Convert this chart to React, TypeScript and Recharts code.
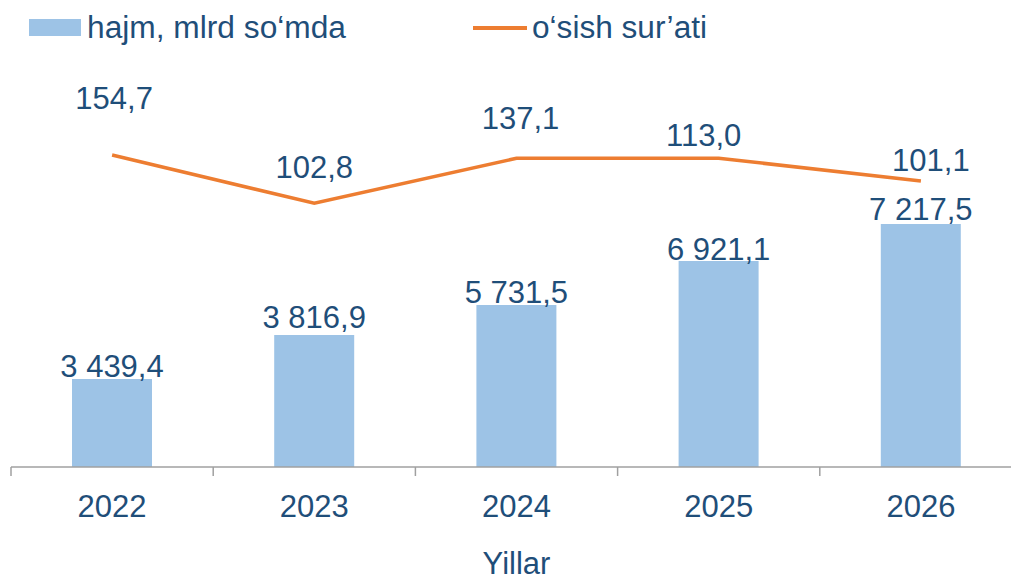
import React from "react";
import { ComposedChart, Bar, Line, XAxis, YAxis, LabelList } from "recharts";

// ---- data ----
const years = ["2022", "2023", "2024", "2025", "2026"];
// printed values (bar labels): hajm, mlrd so'mda
const volume = [3439.4, 3816.9, 5731.5, 6921.1, 7217.5];
// bar heights as drawn in the reference picture (same units)
const volumeDrawn = [3439.4, 5159, 6331, 8051, 9497];
// printed values (line labels): o'sish sur'ati
const growth = [154.7, 102.8, 137.1, 113.0, 101.1];
// line points as drawn in the reference picture (same units)
const growthDrawn = [154.7, 102.8, 151.2, 151.2, 126.8];

const data = years.map((y, i) => ({
  year: y,
  volume: volume[i],
  volumeDrawn: volumeDrawn[i],
  growth: growth[i],
  growthDrawn: growthDrawn[i],
}));

// ---- styles ----
const FONT = "'Liberation Sans', Arial, sans-serif";
const TEXT = "#1F4E79";
const BAR = "#9DC3E6";
const LINE = "#ED7D31";
const AXIS = "#A0A0A0";
const FS = 31;
// label placement tweaks (style)
const barLabelLift = [2, 7, 2, 1, 4];
const lineLabelLift = [57, 36, 40, 23, 21];
const lineLabelShift = [2, 0, 4, -15, 10];

const fmt = (v: number) => {
  const [int, dec] = v.toFixed(1).split(".");
  const grouped = int.replace(/\B(?=(\d{3})+(?!\d))/g, " ");
  return grouped + "," + dec;
};

const CatTick = (props: any) => {
  const { x, y, payload, index } = props;
  const half = payload && payload.offset ? payload.offset : 101;
  return (
    <g>
      <line x1={x - half} x2={x - half} y1={y} y2={y + 9} stroke={AXIS} strokeWidth={1.5} />
      {index === years.length - 1 && (
        <line x1={x + half} x2={x + half} y1={y} y2={y + 9} stroke={AXIS} strokeWidth={1.5} />
      )}
      <text x={x} y={y + 50} textAnchor="middle" fill={TEXT} fontSize={FS} fontFamily={FONT}>
        {payload.value}
      </text>
    </g>
  );
};

const BarLabel = (props: any) => {
  const { x, y, width, index } = props;
  return (
    <text
      x={Number(x) + Number(width) / 2}
      y={Number(y) - barLabelLift[index]}
      textAnchor="middle"
      fill={TEXT}
      fontSize={FS}
      fontFamily={FONT}
    >
      {fmt(volume[index])}
    </text>
  );
};

const LineLabel = (props: any) => {
  const { x, y, index } = props;
  return (
    <text
      x={Number(x) + lineLabelShift[index]}
      y={Number(y) - lineLabelLift[index] + 11}
      textAnchor="middle"
      fill={TEXT}
      fontSize={FS}
      fontFamily={FONT}
    >
      {fmt(growth[index])}
    </text>
  );
};

export default function App() {
  return (
    <div
      style={{
        position: "absolute",
        left: 0,
        top: 0,
        width: 1011,
        height: 576,
        overflow: "hidden",
        background: "#fff",
      }}
    >
      <ComposedChart
        width={1022}
        height={576}
        data={data}
        margin={{ top: 60, right: 0, left: 11, bottom: 0 }}
      >
        <XAxis
          dataKey="year"
          height={109}
          axisLine={{ stroke: AXIS, strokeWidth: 1.5 }}
          tickLine={false}
          tickSize={0}
          tickMargin={0}
          interval={0}
          tick={<CatTick />}
          label={{
            value: "Yillar",
            position: "insideBottom",
            offset: 2,
            fill: TEXT,
            fontSize: FS,
            fontFamily: FONT,
          }}
        />
        <YAxis yAxisId="bar" hide domain={[0, 15907]} allowDataOverflow />
        <YAxis yAxisId="line" hide domain={[-180.6, 256.8]} allowDataOverflow />
        <Bar
          yAxisId="bar"
          dataKey="volumeDrawn"
          fill={BAR}
          barSize={80}
          isAnimationActive={false}
        >
          <LabelList dataKey="volumeDrawn" content={<BarLabel />} />
        </Bar>
        <Line
          yAxisId="line"
          type="linear"
          dataKey="growthDrawn"
          stroke={LINE}
          strokeWidth={3.5}
          dot={false}
          activeDot={false}
          isAnimationActive={false}
        >
          <LabelList dataKey="growthDrawn" content={<LineLabel />} />
        </Line>
      </ComposedChart>
      <svg
        width={760}
        height={60}
        style={{ position: "absolute", left: 0, top: 0 }}
      >
        <rect x={29} y={19} width={52} height={17} fill={BAR} />
        <text
          x={87}
          y={38}
          fontSize={FS}
          fontFamily={FONT}
          fill={TEXT}
          textLength={259}
          lengthAdjust="spacingAndGlyphs"
        >
          hajm, mlrd so‘mda
        </text>
        <line x1={473} x2={527} y1={28} y2={28} stroke={LINE} strokeWidth={4} />
        <text
          x={532}
          y={38}
          fontSize={FS}
          fontFamily={FONT}
          fill={TEXT}
          textLength={175}
          lengthAdjust="spacingAndGlyphs"
        >
          o‘sish sur’ati
        </text>
      </svg>
    </div>
  );
}
